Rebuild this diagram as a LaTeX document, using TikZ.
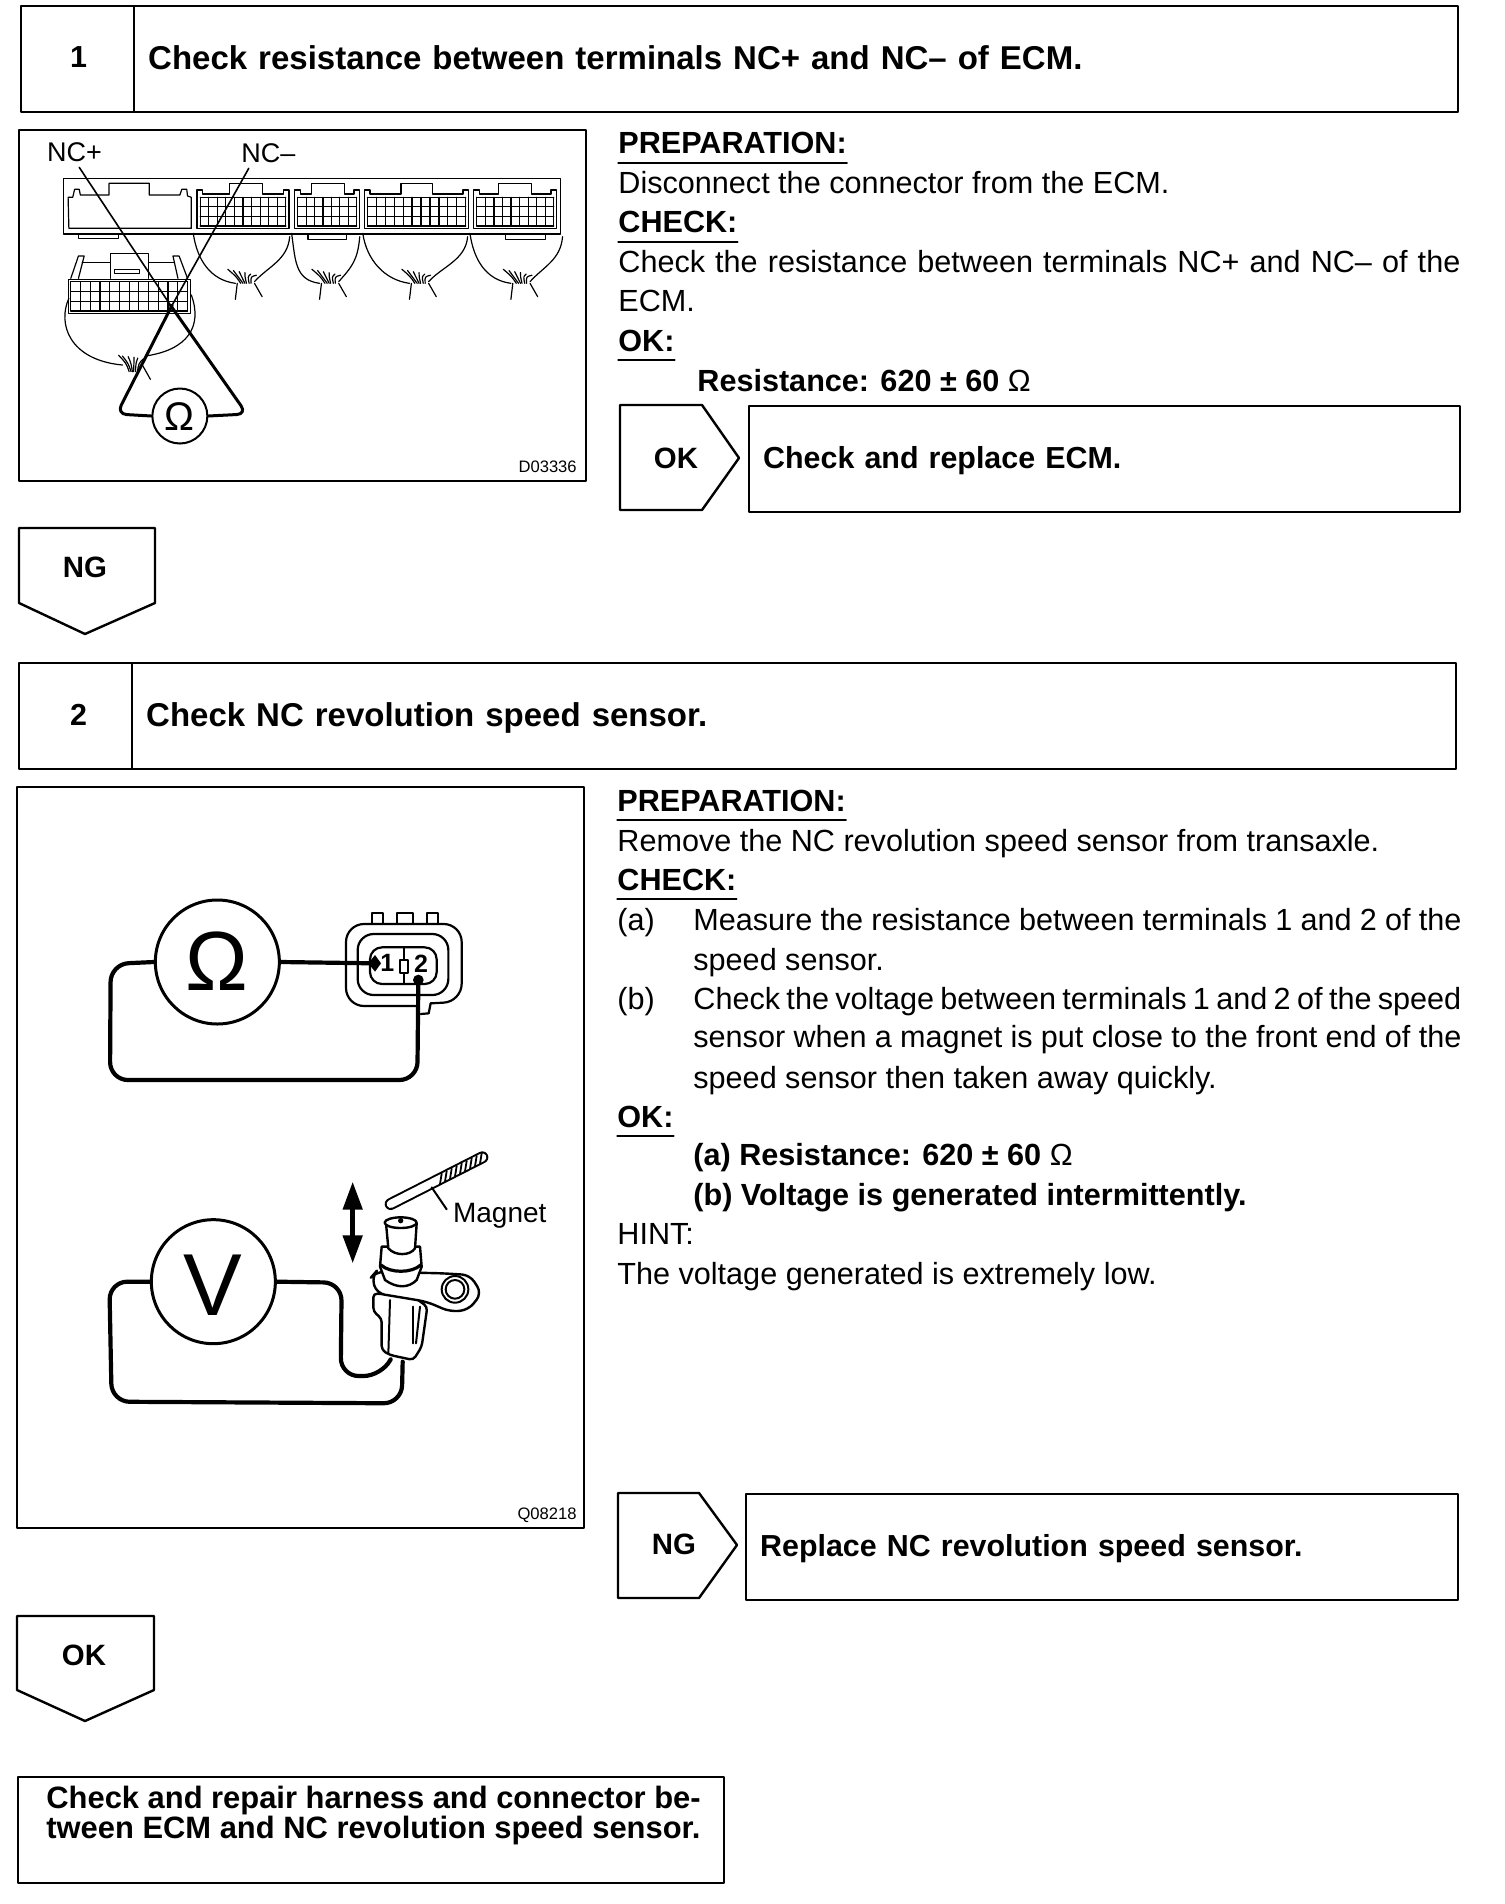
\documentclass[tikz,border=0pt]{standalone}
\usepackage{fontspec}
\setmainfont{Liberation Sans}
\usetikzlibrary{arrows,arrows.meta}

\begin{document}
\begin{tikzpicture}[line cap=round,line join=round,>=triangle 45,x=0.5pt,y=-0.5pt,
	framed/.style={draw,line width=1.2pt,anchor=north west,inner sep=0pt,minimum height=53pt},
	bodytext/.style={anchor=base west,inner sep=0pt,font=\fontsize{15.3}{16}\selectfont},
	boldtext/.style={anchor=base west,inner sep=0pt,font=\fontsize{15.3}{16}\selectfont\bfseries},
	caption/.style={framed,align=left,text depth=1.8pt,font=\fontsize{15.2}{16}\selectfont\bfseries},
	heading/.style={caption,font=\fontsize{16.5}{18}\selectfont\bfseries},
	tagtext/.style={inner sep=0pt,font=\fontsize{14.7}{16}\selectfont\bfseries},
	pentagon/.style={line width=1.2pt},
	picframe/.style={line width=1.3pt},
	callout/.style={inner sep=0pt,anchor=base west,font=\fontsize{13.5}{15}\selectfont},
	figcode/.style={inner sep=0pt,anchor=base east,font=\fontsize{8.3}{9}\selectfont},
	thinline/.style={line width=0.6pt},
	outline/.style={line width=1.1pt},
	wire/.style={line width=1.5pt,rounded corners=5pt},
	heavywire/.style={line width=2.1pt,rounded corners=9pt},
	updown/.style={{Triangle[length=14pt,width=9.5pt]}-{Triangle[length=14pt,width=9.5pt]},line width=2.4pt}]
	\useasboundingbox (0,0) rectangle (1504,1904);
	% Step 1
	\node[caption,text centered,text width=56.5pt] (numA) at (20,5) {\hspace*{1pt}1};
	\node[heading,text width=648pt,inner xsep=7pt] (titleA) at (133,5) {Check resistance between terminals NC+ and NC-- of ECM.};
	\draw[picframe] (19,130) rectangle (586,481);
	\node[boldtext] (prepA) at (618,154) {PREPARATION:};
	\draw[thinline] ([yshift=-4.5pt]prepA.base west)--([yshift=-4.5pt]prepA.base east);
	\node[bodytext] (prepAtext) at (618,194) {Disconnect the connector from the ECM.};
	\node[boldtext] (checkA) at (618,233) {CHECK:};
	\draw[thinline] ([yshift=-4.5pt]checkA.base west)--([yshift=-4.5pt]checkA.base east);
	\node[bodytext] (checkAone) at (618,273) {\makebox[421pt][s]{Check the resistance between terminals NC+ and NC-- of the}};
	\node[bodytext] (checkAtwo) at (618,312) {ECM.};
	\node[boldtext] (okA) at (618,351) {OK:};
	\draw[thinline] ([yshift=-4.5pt]okA.base west)--([yshift=-4.5pt]okA.base east);
	\node[boldtext] (valueA) at (697,391) {Resistance: 620 ± 60 \textmd{Ω}};
	\draw[pentagon] (620,405)--(702,405)--(739,458)--(702,510)--(620,510)--cycle;
	\node[tagtext] (tagOK) at (676,458) {OK};
	\node[caption,text width=341.5pt,inner xsep=7pt] (boxECM) at (748,405) {Check and replace ECM.};
	\draw[pentagon] (19,528)--(155,528)--(155,603)--(85,634)--(19,603)--cycle;
	\node[tagtext] (tagNG) at (85,567) {NG};
	% Figure 1, wiring of the ECM
	\begin{scope}[shift={(0,110)},x=0.19135pt,y=-0.16667pt]
		\draw[thinline] (165,205) rectangle (1465,372);
		\draw[thinline] (178,262)--(190,262)--(195,238)--(207,238)--(210,255)--(285,255)--(285,220)--(390,220)--(390,255)--(470,255)--(475,238)--(488,238)--(490,258)--(500,262)--(500,355)--(180,355)--cycle;
		\draw[thinline] (205,372)--(205,386)--(310,386)--(310,372);
		\foreach \xa/\xb/\ha/\hb/\tabl/\ncols in {515/755/600/685/0/10,770/940/815/900/805/7,952/1225/1048/1130/0/11,1238/1455/1302/1388/1320/9}{
			\draw[thinline] (\xa,262)--(\xa,240)--(\xa+15,240)--(\xa+15,252)--(\ha,252)--(\ha,220)--(\hb,220)--(\hb,252)--(\xb-15,252)--(\xb-15,240)--(\xb,240)--(\xb,355)--(\xa,355)--cycle;
			\foreach \ry in {262,290,320,348}{
				\draw[thinline] (\xa+8,\ry)--(\xb-8,\ry);
			}
			\foreach \ci in {0,...,\ncols}{
				\draw[thinline] ({\xa+8+\ci*(\xb-\xa-16)/\ncols},262)--({\xa+8+\ci*(\xb-\xa-16)/\ncols},348);
			}
		}
		\draw[thinline] (805,372)--(805,388)--(905,388)--(905,372);
		\draw[thinline] (1320,372)--(1320,388)--(1425,388)--(1425,372);
		% Wire bundles
		\foreach \cx/\la/\lb in {640/505/757,860/762/940,1095/948/1222,1360/1228/1470}{
			\draw[thinline] (\la,370) .. controls (\la+10,450) and (\cx-90,510) .. (\cx-25,520);
			\draw[thinline] (\lb,380) .. controls (\lb-5,450) and (\cx+60,470) .. (\cx+25,515);
			\foreach \dx/\ex in {-45/-22,-30/-10,-15/0,0/8,15/22,30/32}{
				\draw[thinline] (\cx+\dx,485+\ex/3) .. controls (\cx+\dx/2,500) .. (\cx+\ex/2,520);
			}
			\draw[thinline] (\cx-20,520)--(\cx-25,568);
			\draw[thinline] (\cx+25,520)--(\cx+45,560);
		}
		% Lower connector
		\draw[thinline] (178,508) rectangle (498,610);
		\draw[thinline] (288,505)--(288,430)--(388,430)--(388,505);
		\draw[thinline] (300,478) rectangle (365,490);
		\draw[thinline] (185,505)--(205,438)--(220,438)--(205,505);
		\draw[thinline] (465,505)--(452,438)--(468,438)--(490,505);
		\draw[thinline] (215,458)--(288,458);
		\draw[thinline] (388,458)--(455,458);
		\foreach \ry in {515,545,575,603}{
			\draw[thinline] (185,\ry)--(490,\ry);
		}
		\foreach \ci in {0,...,12}{
			\draw[thinline] ({185+\ci*305/12},515)--({185+\ci*305/12},603);
		}
		\draw[thinline] (180,565) .. controls (150,640) and (180,750) .. (320,765);
		\draw[thinline] (500,555) .. controls (530,650) and (490,720) .. (380,738);
		\foreach \dx/\ex in {-40/-25,-30/-15,-15/-8,0/-2,10/8,25/18}{
			\draw[thinline] (350+\dx,742+\ex/4) .. controls (350+\dx/2,760) .. (350+\ex/2,785);
		}
		\draw[thinline] (372,765)--(393,808);
		% Probes and meter
		\node[circle,draw,line width=1pt,minimum size=27.5pt,inner sep=0pt] (meterA) at (470,918) {};
		\node[inner sep=0pt,font=\fontsize{20}{21}\selectfont] (meterAsym) at (470,920) {Ω};
		\coordinate (plusEnd) at (207,172);
		\coordinate (minusEnd) at (650,175);
		\coordinate (plusPin) at (445,585);
		\coordinate (minusPin) at (450,585);
		\draw[line width=0.8pt] (plusEnd)--(plusPin);
		\draw[line width=0.8pt] (minusEnd)--(minusPin);
		\draw[wire] (plusPin)--(645,912)--(meterA.east);
		\draw[wire] (minusPin)--(305,912)--(meterA.west);
		\node[callout] (labelPlus) at (122,156) {NC+};
		\node[callout] (labelMinus) at (630,158) {NC--};
		\node[figcode] (codeA) at (1508,1088) {D03336};
	\end{scope}
	% Step 2
	\node[caption,text centered,text width=56.5pt] (numB) at (18,662) {\hspace*{3pt}2};
	\node[heading,text width=648pt,inner xsep=7pt] (titleB) at (131,662) {Check NC revolution speed sensor.};
	\draw[picframe] (17,787) rectangle (584,1528);
	\node[boldtext] (prepB) at (617,811) {PREPARATION:};
	\draw[thinline] ([yshift=-4.5pt]prepB.base west)--([yshift=-4.5pt]prepB.base east);
	\node[bodytext] (prepBtext) at (617,851) {Remove the NC revolution speed sensor from transaxle.};
	\node[boldtext] (checkB) at (617,890) {CHECK:};
	\draw[thinline] ([yshift=-4.5pt]checkB.base west)--([yshift=-4.5pt]checkB.base east);
	\node[bodytext] (markA) at (617,930) {(a)};
	\node[bodytext] (stepAone) at (693,930) {\makebox[384pt][s]{Measure the resistance between terminals 1 and 2 of the}};
	\node[bodytext] (stepAtwo) at (693,970) {speed sensor.};
	\node[bodytext] (markB) at (617,1009) {(b)};
	\node[bodytext] (stepBone) at (693,1009) {\makebox[384pt][s]{Check the voltage between terminals 1 and 2 of the speed}};
	\node[bodytext] (stepBtwo) at (693,1047) {\makebox[384pt][s]{sensor when a magnet is put close to the front end of the}};
	\node[bodytext] (stepBthree) at (693,1088) {speed sensor then taken away quickly.};
	\node[boldtext] (okB) at (617,1127) {OK:};
	\draw[thinline] ([yshift=-4.5pt]okB.base west)--([yshift=-4.5pt]okB.base east);
	\node[boldtext] (valueB) at (693,1165) {(a) Resistance: 620 ± 60 \textmd{Ω}};
	\node[boldtext] (valueC) at (693,1205) {(b) Voltage is generated intermittently.};
	\node[bodytext] (hintB) at (617,1244) {HINT:};
	\node[bodytext] (hintBtext) at (617,1284) {The voltage generated is extremely low.};
	\draw[pentagon] (618,1493)--(699,1493)--(737,1545)--(699,1598)--(618,1598)--cycle;
	\node[tagtext] (tagNGb) at (674,1544) {NG};
	\node[caption,text width=342pt,inner xsep=7pt] (boxSensor) at (745,1493) {Replace NC revolution speed sensor.};
	\draw[pentagon] (17,1616)--(154,1616)--(154,1690)--(85,1721)--(17,1690)--cycle;
	\node[tagtext] (tagOKb) at (84,1655) {OK};
	\node[framed,minimum width=353pt] (boxRepair) at (17,1776) {};
	\node[anchor=north west,inner sep=0pt,align=left,font=\fontsize{15.45}{15}\selectfont\bfseries] (textRepair) at (46,1786) {Check and repair harness and connector be-\\tween ECM and NC revolution speed sensor.};
	% Figure 2, ohmmeter
	\begin{scope}[shift={(60,860)},x=0.16667pt,y=-0.16667pt]
		\node[circle,draw,line width=1.5pt,minimum size=62pt,inner sep=0pt] (meterB) at (472,306) {};
		\node[inner sep=0pt,font=\fontsize{42}{44}\selectfont] (meterBsym) at (472,303) {Ω};
		\draw[outline,rounded corners=9pt] (1112,430)--(1205,425)--(1205,192)--(858,192)--(858,438)--(1075,438);
		\draw[outline] (1112,430)--(1106,460)--(1082,462);
		\draw[outline,rounded corners=8pt] (893,222) rectangle (1165,405);
		\draw[outline,rounded corners=6pt] (930,262) rectangle (1130,372);
		\foreach \pa/\pb in {937/970,1010/1060,1100/1135}{
			\draw[outline] (\pa,190)--(\pa,158)--(\pb,158)--(\pb,190);
		}
		\draw[line width=1pt] (1032,262)--(1032,300);
		\draw[line width=1pt] (1032,340)--(1032,372);
		\draw[line width=1pt] (1020,300) rectangle (1045,340);
		\node[inner sep=0pt,font=\fontsize{12.5}{13}\selectfont\bfseries] (pinOne) at (982,310) {1};
		\node[inner sep=0pt,font=\fontsize{12.5}{13}\selectfont\bfseries] (pinTwo) at (1083,310) {2};
		\coordinate (tipOne) at (945,310);
		\coordinate (tipTwo) at (1075,360);
		\fill (925,310)--(945,285)--(963,310)--(945,335)--cycle;
		\fill (tipTwo) circle (16);
		\draw[heavywire] (meterB.east)--(tipOne);
		\draw[heavywire] (meterB.west)--(152,312)--(150,660)--(1072,660)--(tipTwo);
	\end{scope}
	% Figure 2, voltmeter and sensor
	\begin{scope}[shift={(80,1130)},x=0.16667pt,y=-0.16667pt]
		\node[circle,draw,line width=1.5pt,minimum size=62pt,inner sep=0pt] (meterC) at (400,455) {};
		\node[inner sep=0pt,font=\fontsize{44}{46}\selectfont] (meterCsym) at (400,465) {V};
		\coordinate (pinLeft) at (968,695);
		\coordinate (pinRight) at (932,688);
		\draw[heavywire] (meterC.west)--(88,455)--(95,815)--(965,820)--(pinLeft);
		\draw[heavywire] (meterC.east)--(785,458)--(782,738)--(905,738)--(pinRight);
		% Up and down arrow
		\draw[updown] (818,155)--(818,400);
		% Magnet
		\draw[line width=6pt] (932,222)--(1207,82);
		\draw[white,line width=4pt] (932,222)--(1207,82);
		\foreach \hx in {1080,1095,...,1200}{
			\draw[line width=0.9pt] (\hx,{162-(\hx-1080)*0.51})--(\hx+5,{131-(\hx-1080)*0.51});
		}
		\draw[line width=1pt] (1055,172)--(1100,238);
		\node[callout,font=\fontsize{14}{15}\selectfont] (labelMagnet) at (1118,278) {Magnet};
		% Sensor
		\draw[line width=1.2pt,fill=white,rounded corners=2pt] (880,490)--(880,545)--(905,565)--(905,660)--(930,675)--(1000,690)--(1025,650)--(1042,530)--(1000,500)--cycle;
		\draw[line width=1.2pt,fill=white,rounded corners=4pt] (875,440)--(888,425)--(1090,430)--(1170,435)--(1205,490)--(1165,540)--(1110,545)--(1040,515)--(890,490)--cycle;
		\draw[line width=1pt] (1000,530)--(1000,640);
		\draw[line width=1pt] (1020,530)--(1008,640);
		\draw[line width=1pt] (930,510)--(925,670);
		\draw[line width=1pt,fill=white] (1125,478) circle (40);
		\draw[line width=1pt] (1125,478) circle (28);
		\draw[line width=1.2pt,fill=white] (905,350)--(900,410)--(915,450) .. controls (950,475) and (985,475) .. (1010,450)--(1025,410)--(1020,350)--cycle;
		\draw[line width=1.6pt] (903,405) .. controls (930,430) and (995,430) .. (1022,405);
		\draw[line width=1.2pt,fill=white] (918,280)--(925,355) .. controls (945,378) and (990,378) .. (1005,355)--(1010,280)--cycle;
		\draw[line width=1.2pt,fill=white] (962,278) ellipse (48 and 16);
		\fill (962,272) circle (8);
	\end{scope}
	\node[figcode] (codeB) at (577,1519) {Q08218};
\end{tikzpicture}
\end{document}
